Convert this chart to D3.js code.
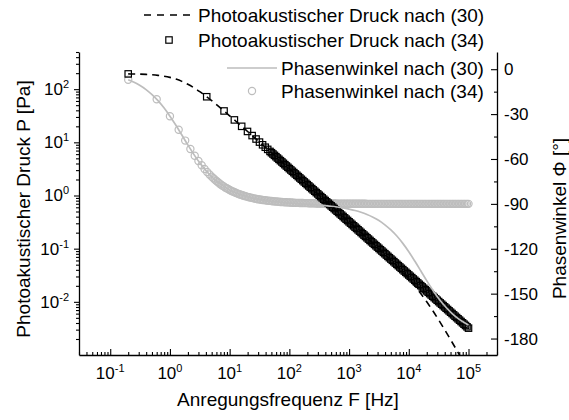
<!DOCTYPE html>
<html><head><meta charset="utf-8">
<script src="https://cdn.jsdelivr.net/npm/d3@7"></script>
<style>body{margin:0;background:#fff}svg{display:block}text{font-family:"Liberation Sans",Arial,sans-serif;fill:#000}</style>
</head><body><svg id="c" width="569" height="420"></svg>
<script>
// ---------- DATA ----------
// Curves after eq. (30): frequency [Hz], pressure [Pa], phase [deg]
const lineF = [0.2,0.251,0.316,0.398,0.501,0.631,0.794,1,1.259,1.585,1.995,2.512,3.162,3.981,5.012,6.31,7.943,10,12.59,15.85,19.95,25.12,31.62,39.81,50.12,63.1,79.43,100,125.9,158.5,199.5,251.2,316.2,398.1,501.2,631,794.3,1000,1259,1585,1995,2512,3162,3981,5012,6310,7943,10000,12589,15849,19953,25119,31623,39811,50119,63096,79433,100000];
const pressure30 = [193.6,192.7,191.5,189.5,186.5,182.0,175.5,166.5,154.7,140.2,123.8,106.6,89.8,74.3,60.6,49.05,39.43,31.56,25.19,20.07,15.97,12.70,10.10,8.03,6.38,5.07,4.026,3.197,2.540,2.018,1.603,1.273,1.011,0.803,0.638,0.5064,0.4021,0.3192,0.2532,0.2008,0.1591,0.1258,0.0992,0.0779,0.0609,0.04714,0.03606,0.02712,0.01996,0.01434,0.01003,0.00684,0.004565,0.002995,0.00194,0.001246,0.000795,0.000505];
const phase30 = [-7.0,-8.7,-10.9,-13.6,-17.0,-21.0,-25.8,-31.4,-37.5,-44.0,-50.6,-56.9,-62.6,-67.6,-71.9,-75.4,-78.3,-80.7,-82.6,-84.1,-85.4,-86.4,-87.1,-87.8,-88.3,-88.7,-89.1,-89.4,-89.7,-90.0,-90.2,-90.5,-90.8,-91.2,-91.6,-92.1,-92.7,-93.5,-94.4,-95.6,-97.1,-98.9,-101.1,-104.0,-107.4,-111.5,-116.4,-122.0,-128.2,-134.7,-141.3,-147.5,-153.2,-158.1,-162.3,-165.8,-168.6,-170.9];

// Markers after eq. (34): pressure (squares)
const sqF = [0.2,4.13,8.06,12.0,15.9,19.9,23.8,27.7,31.6,35.6,39.5,43.4,47.4,
50.12,53.09,56.23,59.57,63.10,66.83,70.79,74.99,79.43,84.14,89.13,94.41,
100.0,105.9,112.2,118.9,125.9,133.4,141.3,149.6,158.5,167.9,177.8,188.4,199.5,211.3,223.9,237.1,251.2,266.1,281.8,298.5,316.2,335.0,354.8,375.8,398.1,421.7,446.7,473.2,501.2,530.9,562.3,595.7,631.0,668.3,707.9,749.9,794.3,841.4,891.3,944.1,
1000,1059,1122,1189,1259,1334,1413,1496,1585,1679,1778,1884,1995,2113,2239,2371,2512,2661,2818,2985,3162,3350,3548,3758,3981,4217,4467,4732,5012,5309,5623,5957,6310,6683,7079,7499,7943,8414,8913,9441,
10000,10593,11220,11885,12589,13335,14125,14962,15849,16788,17783,18836,19953,21135,22387,23714,25119,26607,28184,29854,31623,33497,35481,37584,39811,42170,44668,47315,50119,53088,56234,59566,63096,66834,70795,74989,79433,84140,89125,94406,
100000];
const sqP = [193.6,72.0,38.9,26.4,20.0,16.02,13.40,11.54,10.11,8.98,8.09,7.37,6.74,
6.38,6.03,5.69,5.37,5.07,4.79,4.52,4.27,4.03,3.80,3.59,3.39,
3.200,3.021,2.852,2.692,2.542,2.400,2.265,2.139,2.019,1.906,1.799,1.699,1.604,1.514,1.429,1.349,1.274,1.203,1.135,1.072,1.012,0.955,0.902,0.851,0.804,0.759,0.716,0.676,0.638,0.603,0.569,0.537,0.507,0.479,0.452,0.427,0.403,0.380,0.359,0.339,
0.3200,0.3021,0.2852,0.2692,0.2542,0.2400,0.2265,0.2139,0.2019,0.1906,0.1799,0.1699,0.1604,0.1514,0.1429,0.1349,0.1274,0.1203,0.1135,0.1072,0.1012,0.0955,0.0902,0.0851,0.0804,0.0759,0.0716,0.0676,0.0638,0.0603,0.0569,0.0537,0.0507,0.0479,0.0452,0.0427,0.0403,0.0380,0.0359,0.0339,
0.03200,0.03021,0.02852,0.02692,0.02542,0.02400,0.02265,0.02139,0.02019,0.01906,0.01799,0.01699,0.01604,0.01514,0.01429,0.01349,0.01274,0.01203,0.01135,0.01072,0.01012,0.00955,0.00902,0.00851,0.00804,0.00759,0.00716,0.00676,0.00638,0.00603,0.00569,0.00537,0.00507,0.00479,0.00452,0.00427,0.00403,0.00380,0.00359,0.00339,
0.00320];

// Markers after eq. (34): phase (circles)
const circF = [0.2,0.6,1.0,1.4,1.8,2.2,2.6,3.0,3.4,3.8,4.2,4.6,5.0,
5.309,5.623,5.957,6.310,6.683,7.079,7.499,7.943,8.414,8.913,9.441,
10.00,10.59,11.22,11.89,12.59,13.34,14.13,14.96,15.85,16.79,17.78,18.84,19.95,21.13,22.39,23.71,25.12,26.61,28.18,29.85,31.62,33.50,35.48,37.58,39.81,42.17,44.67,47.32,50.12,53.09,56.23,59.57,63.10,66.83,70.79,74.99,79.43,84.14,89.13,94.41,
100.0,105.9,112.2,118.9,125.9,133.4,141.3,149.6,158.5,167.9,177.8,188.4,199.5,211.3,223.9,237.1,251.2,266.1,281.8,298.5,316.2,335.0,354.8,375.8,398.1,421.7,446.7,473.2,501.2,530.9,562.3,595.7,631.0,668.3,707.9,749.9,794.3,841.4,891.3,944.1,
1000,1059,1122,1189,1259,1334,1413,1496,1585,1679,1778,1884,1995,2113,2239,2371,2512,2661,2818,2985,3162,3350,3548,3758,3981,4217,4467,4732,5012,5309,5623,5957,6310,6683,7079,7499,7943,8414,8913,9441,
10000,10593,11220,11885,12589,13335,14125,14962,15849,16788,17783,18836,19953,21135,22387,23714,25119,26607,28184,29854,31623,33497,35481,37584,39811,42170,44668,47315,50119,53088,56234,59566,63096,66834,70795,74989,79433,84140,89125,94406,
100000];
const circPhase = [-7.0,-20.1,-31.4,-40.5,-47.7,-53.3,-57.8,-61.3,-64.2,-66.7,-68.7,-70.4,-71.8,
-72.8,-73.7,-74.6,-75.4,-76.2,-77.0,-77.7,-78.3,-79.0,-79.6,-80.1,
-80.7,-81.2,-81.7,-82.1,-82.6,-83.0,-83.4,-83.7,-84.1,-84.4,-84.7,-85.0,-85.3,-85.6,-85.8,-86.0,-86.3,-86.5,-86.7,-86.9,-87.0,-87.2,-87.4,-87.5,-87.6,-87.8,-87.9,-88.0,-88.1,-88.2,-88.3,-88.4,-88.5,-88.6,-88.7,-88.7,-88.8,-88.9,-88.9,-89.0,
-89.1,-89.1,-89.2,-89.2,-89.3,-89.3,-89.3,-89.4,-89.4,-89.4,-89.5,-89.5,-89.5,-89.6,-89.6,-89.6,-89.6,-89.6,-89.7,-89.7,-89.7,-89.7,-89.7,-89.8,-89.8,-89.8,-89.8,-89.8,-89.8,-89.8,-89.8,-89.8,-89.9,-89.9,-89.9,-89.9,-89.9,-89.9,-89.9,-89.9,
-89.9,-89.9,-89.9,-89.9,-89.9,-89.9,-89.9,-89.9,-89.9,-89.9,-89.9,-89.9,-90,-90,-90,-90,-90,-90,-90,-90,-90,-90,-90,-90,-90,-90,-90,-90,-90,-90,-90,-90,-90,-90,-90,-90,-90,-90,-90,-90,
-90,-90,-90,-90,-90,-90,-90,-90,-90,-90,-90,-90,-90,-90,-90,-90,-90,-90,-90,-90,-90,-90,-90,-90,-90,-90,-90,-90,-90,-90,-90,-90,-90,-90,-90,-90,-90,-90,-90,-90,
-90];

// Ticks and labels
const xTickExp = [-1,0,1,2,3,4,5];
const yTickExp = [-2,-1,0,1,2];
const phaseTicks = [0,-30,-60,-90,-120,-150,-180];
const phaseMinor = [-15,-45,-75,-105,-135,-165];
const legendLabels = ["Photoakustischer Druck nach (30)","Photoakustischer Druck nach (34)","Phasenwinkel nach (30)","Phasenwinkel nach (34)"];
const xTitle = "Anregungsfrequenz F [Hz]";
const yTitle = "Photoakustischer Druck P [Pa]";
const y2Title = "Phasenwinkel \u03A6 [\u00B0]";

// ---------- CHART ----------
const L=79, R=497, T=52, B=355;
const GREY="#bdbdbd";
const svg=d3.select("#c");
const x=d3.scaleLog().domain([0.03,3e5]).range([L,R]);
const yP=d3.scaleLog().domain([1e-3,500]).range([B,T]);
const yA=d3.scaleLinear().domain([-191,11.5]).range([B,T]);

svg.append("defs").append("clipPath").attr("id","clip").append("rect")
  .attr("x",L).attr("y",T).attr("width",R-L).attr("height",B-T);
const plot=svg.append("g").attr("clip-path","url(#clip)");

// circles (34) phase
const circData=circF.map((f,i)=>({f,v:circPhase[i]}));
plot.append("g").selectAll("circle").data(circData).join("circle")
  .attr("cx",d=>x(d.f)).attr("cy",d=>yA(d.v)).attr("r",3.6)
  .attr("fill","none").attr("stroke",GREY).attr("stroke-width",1.2);

// squares (34) pressure
const sqData=sqF.map((f,i)=>({f,v:sqP[i]}));
const s=6.4;
plot.append("g").selectAll("rect").data(sqData).join("rect")
  .attr("x",d=>x(d.f)-s/2).attr("y",d=>yP(d.v)-s/2).attr("width",s).attr("height",s)
  .attr("fill","none").attr("stroke","#000").attr("stroke-width",1.2);

// grey line (30) phase
const lineData=lineF.map((f,i)=>({f,p:pressure30[i],a:phase30[i]}));
plot.append("path").datum(lineData)
  .attr("d",d3.line().x(d=>x(d.f)).y(d=>yA(d.a)).curve(d3.curveMonotoneX))
  .attr("fill","none").attr("stroke",GREY).attr("stroke-width",1.7);

// dashed line (30) pressure
plot.append("path").datum(lineData)
  .attr("d",d3.line().x(d=>x(d.f)).y(d=>yP(d.p)).curve(d3.curveMonotoneX))
  .attr("fill","none").attr("stroke","#000").attr("stroke-width",1.6).attr("stroke-dasharray","7,5");

// ---------- AXES ----------
function minorLog(lo,hi){const out=[];for(let e=Math.floor(Math.log10(lo));e<=Math.ceil(Math.log10(hi));e++){for(let k=2;k<=9;k++){const v=k*Math.pow(10,e);if(v>=lo*0.999&&v<=hi*1.001)out.push(v);}}return out;}
function style(g){g.selectAll("path.domain").attr("stroke","#000").attr("stroke-width",1.3);g.selectAll(".tick line").attr("stroke","#000").attr("stroke-width",1.1);g.selectAll(".tick text").remove();}

svg.append("g").attr("transform",`translate(0,${B})`)
  .call(d3.axisBottom(x).tickValues(xTickExp.map(e=>Math.pow(10,e))).tickSize(-6).tickSizeOuter(0).tickFormat(""))
  .call(style);
svg.append("g").attr("transform",`translate(0,${B})`)
  .call(d3.axisBottom(x).tickValues(minorLog(0.03,3e5)).tickSize(-3).tickSizeOuter(0).tickFormat(""))
  .call(style).call(g=>g.select("path.domain").remove());

svg.append("g").attr("transform",`translate(${L},0)`)
  .call(d3.axisLeft(yP).tickValues(yTickExp.map(e=>Math.pow(10,e))).tickSize(5).tickSizeOuter(0).tickFormat(""))
  .call(style);
svg.append("g").attr("transform",`translate(${L},0)`)
  .call(d3.axisLeft(yP).tickValues(minorLog(1e-3,500)).tickSize(3).tickSizeOuter(0).tickFormat(""))
  .call(style).call(g=>g.select("path.domain").remove());

svg.append("g").attr("transform",`translate(${R},0)`)
  .call(d3.axisRight(yA).tickValues(phaseTicks).tickSize(-6).tickSizeOuter(0).tickFormat(""))
  .call(style);
svg.append("g").attr("transform",`translate(${R},0)`)
  .call(d3.axisRight(yA).tickValues(phaseMinor).tickSize(-3).tickSizeOuter(0).tickFormat(""))
  .call(style).call(g=>g.select("path.domain").remove());

// tick labels
xTickExp.forEach(e=>{
  const t=svg.append("text").attr("x",x(Math.pow(10,e))).attr("y",379).attr("text-anchor","middle").attr("font-size",17);
  t.append("tspan").text("10");
  t.append("tspan").attr("dy",-7).attr("font-size",11).text(String(e));
});
yTickExp.forEach(e=>{
  const t=svg.append("text").attr("x",69).attr("y",yP(Math.pow(10,e))+6).attr("text-anchor","end").attr("font-size",17);
  t.append("tspan").text("10");
  t.append("tspan").attr("dy",-7).attr("font-size",11).text(String(e));
});
phaseTicks.forEach(v=>{
  svg.append("text").attr("x",504).attr("y",yA(v)+6).attr("font-size",17).text(String(v));
});

// titles
svg.append("text").attr("x",(L+R)/2).attr("y",406).attr("text-anchor","middle").attr("font-size",19).text(xTitle);
svg.append("text").attr("transform","translate(29.5,209) rotate(-90)").attr("text-anchor","middle").attr("font-size",19).text(yTitle);
svg.append("text").attr("transform","translate(565.5,218.5) rotate(-90)").attr("text-anchor","middle").attr("font-size",19).text(y2Title);

// ---------- LEGEND ----------
const leg=svg.append("g");
leg.append("line").attr("x1",144).attr("x2",192).attr("y1",15).attr("y2",15).attr("stroke","#000").attr("stroke-width",1.6).attr("stroke-dasharray","7,6");
leg.append("rect").attr("x",169-s/2).attr("y",40-s/2).attr("width",s).attr("height",s).attr("fill","#fff").attr("stroke","#000").attr("stroke-width",1.2);
leg.append("line").attr("x1",227).attr("x2",277).attr("y1",68).attr("y2",68).attr("stroke",GREY).attr("stroke-width",1.7);
leg.append("circle").attr("cx",252).attr("cy",91).attr("r",3.6).attr("fill","#fff").attr("stroke",GREY).attr("stroke-width",1.2);
const legPos=[[198,15],[198,40],[281,68],[281,91]];
legendLabels.forEach((txt,i)=>{
  leg.append("text").attr("x",legPos[i][0]).attr("y",legPos[i][1]+6.8).attr("font-size",19).text(txt);
});
</script>
</body></html>
